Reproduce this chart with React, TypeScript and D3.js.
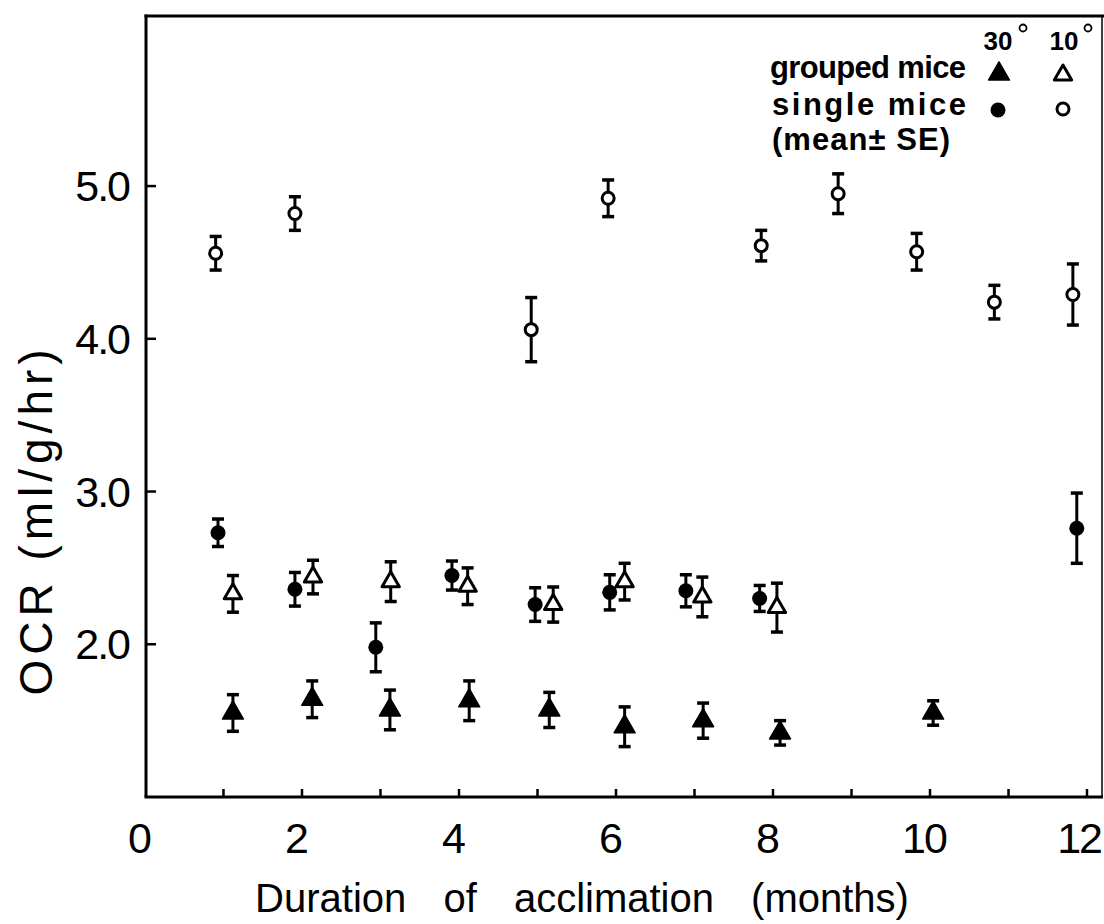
import React from "react";
import * as d3 from "d3";

// ---- data ----
const xTickValues = [0, 2, 4, 6, 8, 10, 12];
const xMinorTicks = [1, 2, 3, 4, 5, 6, 7, 8, 9, 10, 11, 12];
const yTickValues = [2, 3, 4, 5];
const yTickLabels = ["2.0", "3.0", "4.0", "5.0"];

// single mice, 10° (open circles)
const single10Months = [0.9, 1.91, 4.92, 5.9, 7.85, 8.83, 9.83, 10.82, 11.82];
const single10Mean = [4.56, 4.82, 4.06, 4.92, 4.61, 4.95, 4.57, 4.24, 4.29];
const single10SE = [0.11, 0.11, 0.21, 0.12, 0.1, 0.13, 0.12, 0.11, 0.2];

// single mice, 30° (filled circles)
const single30Months = [0.93, 1.91, 2.94, 3.91, 4.97, 5.92, 6.89, 7.83, 11.87];
const single30Mean = [2.73, 2.36, 1.98, 2.45, 2.26, 2.34, 2.35, 2.3, 2.76];
const single30SE = [0.09, 0.11, 0.16, 0.095, 0.11, 0.115, 0.105, 0.085, 0.23];

// grouped mice, 10° (open triangles)
const grouped10Months = [1.12, 2.14, 3.13, 4.11, 5.2, 6.11, 7.1, 8.05];
const grouped10Mean = [2.33, 2.44, 2.41, 2.38, 2.26, 2.41, 2.31, 2.24];
const grouped10SE = [0.12, 0.11, 0.13, 0.12, 0.115, 0.12, 0.13, 0.16];

// grouped mice, 30° (filled triangles)
const grouped30Months = [1.12, 2.13, 3.12, 4.13, 5.15, 6.11, 7.11, 8.09, 10.04];
const grouped30Mean = [1.55, 1.64, 1.57, 1.63, 1.57, 1.46, 1.5, 1.42, 1.55];
const grouped30SE = [0.12, 0.12, 0.13, 0.13, 0.115, 0.13, 0.115, 0.08, 0.08];

const W = 1104;
const H = 924;
const FONT = "'Liberation Sans', Arial, sans-serif";

const x = d3.scaleLinear().domain([0, 12]).range([145, 1087]);
const y = d3.scaleLinear().domain([1, 6.12]).range([797, 15]);

type Kind = "openCircle" | "filledCircle" | "openTri" | "filledTri";

const triFilled = d3.symbol().type(d3.symbolTriangle).size(190)()!;
const triOpen = d3.symbol().type(d3.symbolTriangle).size(130)()!;

function Marker({ kind, cx, cy }: { kind: Kind; cx: number; cy: number }) {
  if (kind === "openCircle")
    return <circle cx={cx} cy={cy} r={6} fill="#fff" stroke="#000" strokeWidth={3} />;
  if (kind === "filledCircle")
    return <circle cx={cx} cy={cy} r={7.5} fill="#000" />;
  if (kind === "openTri")
    return (
      <path d={triOpen} transform={`translate(${cx},${cy})`} fill="#fff" stroke="#000" strokeWidth={3} strokeLinejoin="round" />
    );
  return <path d={triFilled} transform={`translate(${cx},${cy})`} fill="#000" stroke="#000" strokeWidth={1.5} strokeLinejoin="round" />;
}

function Series({ months, mean, se, kind }: { months: number[]; mean: number[]; se: number[]; kind: Kind }) {
  return (
    <g>
      {months.map((m, i) => {
        const cx = x(m);
        const top = y(mean[i] + se[i]);
        const bot = y(mean[i] - se[i]);
        const cy = y(mean[i]);
        return (
          <g key={i}>
            <line x1={cx} x2={cx} y1={top} y2={bot} stroke="#000" strokeWidth={3} />
            <line x1={cx - 6} x2={cx + 6} y1={top} y2={top} stroke="#000" strokeWidth={3.5} />
            <line x1={cx - 6} x2={cx + 6} y1={bot} y2={bot} stroke="#000" strokeWidth={3.5} />
            <Marker kind={kind} cx={cx} cy={cy} />
          </g>
        );
      })}
    </g>
  );
}

export default function App() {
  const x0 = 146;
  const yB = 797;
  const yT = 16;
  const xR = 1102;
  return (
    <svg
      width={W}
      height={H}
      viewBox={`0 0 ${W} ${H}`}
      style={{ position: "absolute", left: 0, top: 0, background: "#fff" }}
    >
      <rect x={0} y={0} width={W} height={H} fill="#fff" />
      {/* frame */}
      <line x1={x0} x2={x0} y1={yT - 1.5} y2={yB} stroke="#000" strokeWidth={3} />
      <line x1={x0 - 1.5} x2={xR + 1} y1={yB} y2={yB} stroke="#000" strokeWidth={3} />
      <line x1={x0 - 1.5} x2={W} y1={yT} y2={yT} stroke="#000" strokeWidth={3} />
      <line x1={xR} x2={xR} y1={yT} y2={yB} stroke="#000" strokeWidth={1.5} />

      {/* x ticks */}
      {xMinorTicks.map((t) => (
        <line key={t} x1={x(t)} x2={x(t)} y1={yB} y2={yB - 8} stroke="#000" strokeWidth={2.5} />
      ))}
      {/* y ticks */}
      {yTickValues.map((t) => (
        <line key={t} x1={x0} x2={x0 + 10} y1={y(t)} y2={y(t)} stroke="#000" strokeWidth={2.5} />
      ))}

      {/* x tick labels */}
      {xTickValues.map((t) => {
        const last = t === 12;
        return (
          <text
            key={t}
            x={last ? 1101 : x(t) - 6}
            y={853}
            textAnchor={last ? "end" : "middle"}
            fontFamily={FONT}
            fontSize={43}
            letterSpacing={-2}
            fill="#000"
          >
            {String(t)}
          </text>
        );
      })}
      {/* y tick labels */}
      {yTickValues.map((t, i) => (
        <text key={t} x={129} y={y(t) + 15} textAnchor="end" fontFamily={FONT} fontSize={43} letterSpacing={-2} fill="#000">
          {yTickLabels[i]}
        </text>
      ))}

      {/* axis titles */}
      <text x={582} y={912} textAnchor="middle" fontFamily={FONT} fontSize={40} wordSpacing={26} fill="#000">
        Duration of acclimation (months)
      </text>
      <text
        transform={`translate(52,520) rotate(-90)`}
        textAnchor="middle"
        fontFamily={FONT}
        fontSize={46}
        letterSpacing={5}
        fill="#000"
      >
        OCR (ml/g/hr)
      </text>

      {/* data */}
      <Series months={single10Months} mean={single10Mean} se={single10SE} kind="openCircle" />
      <Series months={single30Months} mean={single30Mean} se={single30SE} kind="filledCircle" />
      <Series months={grouped10Months} mean={grouped10Mean} se={grouped10SE} kind="openTri" />
      <Series months={grouped30Months} mean={grouped30Mean} se={grouped30SE} kind="filledTri" />

      {/* legend */}
      <g fontFamily={FONT} fontWeight="bold" fill="#000">
        <text x={998} y={50} textAnchor="middle" fontSize={26}>30</text>
        <circle cx={1023} cy={28} r={3.5} fill="none" stroke="#000" strokeWidth={1.8} />
        <text x={1064} y={50} textAnchor="middle" fontSize={26}>10</text>
        <circle cx={1088} cy={28} r={3.5} fill="none" stroke="#000" strokeWidth={1.8} />
        <text x={770} y={78} fontSize={31} textLength={196} lengthAdjust="spacing">grouped mice</text>
        <text x={772} y={115} fontSize={31} textLength={194} lengthAdjust="spacing">single mice</text>
        <text x={772} y={150} fontSize={31} textLength={178} lengthAdjust="spacing">(mean± SE)</text>
      </g>
      <Marker kind="filledTri" cx={999} cy={74} />
      <Marker kind="openTri" cx={1063} cy={75} />
      <Marker kind="filledCircle" cx={998} cy={110} />
      <Marker kind="openCircle" cx={1063} cy={109} />
    </svg>
  );
}
